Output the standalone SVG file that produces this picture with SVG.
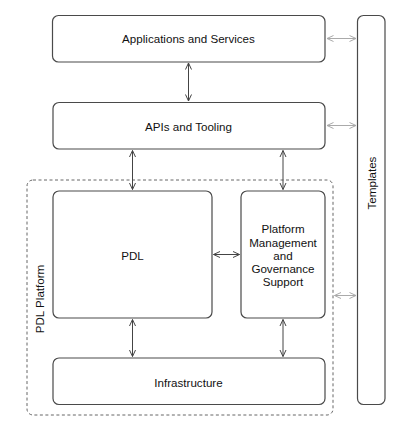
<svg xmlns="http://www.w3.org/2000/svg" width="400" height="432" viewBox="0 0 400 432">
<style>
.box{fill:#fff;stroke:#4a4a4a;stroke-width:1.2}
.dash{fill:none;stroke:#666;stroke-width:1;stroke-dasharray:3,2.5}
.t{font-family:"Liberation Sans",Arial,sans-serif;font-size:11.6px;fill:#111;text-anchor:middle;dominant-baseline:central}
.c{stroke:#444;stroke-width:1;fill:none;marker-start:url(#ad);marker-end:url(#ad)}
.g{stroke:#aaa;stroke-width:1;fill:none;marker-start:url(#ag);marker-end:url(#ag)}
</style>
<defs>
<marker id="ad" viewBox="0 0 8 8" refX="7.5" refY="4" markerWidth="8" markerHeight="8" markerUnits="userSpaceOnUse" orient="auto-start-reverse">
<path d="M1,1 L7.5,4 L1,7" fill="none" stroke="#444" stroke-width="1"/>
</marker>
<marker id="ag" viewBox="0 0 8 8" refX="7.5" refY="4" markerWidth="8" markerHeight="8" markerUnits="userSpaceOnUse" orient="auto-start-reverse">
<path d="M1,1 L7.5,4 L1,7" fill="none" stroke="#aaa" stroke-width="1"/>
</marker>
</defs>
<rect width="400" height="432" fill="#fff"/>
<g id="pdl-platform">
<rect class="dash" x="27" y="180" width="306" height="235" rx="6"/>
<text class="t" transform="translate(39,299) rotate(-90)">PDL Platform</text>
</g>
<g id="apps">
<rect class="box" x="52.5" y="15.5" width="272.5" height="46.5" rx="6"/>
<text class="t" x="188.5" y="38.5">Applications and Services</text>
</g>
<g id="apis">
<rect class="box" x="53" y="102.5" width="272" height="46.5" rx="6"/>
<text class="t" x="188.5" y="126">APIs and Tooling</text>
</g>
<g id="pdl">
<rect class="box" x="53" y="191" width="159" height="127" rx="6"/>
<text class="t" x="132.5" y="255">PDL</text>
</g>
<g id="pmgs">
<rect class="box" x="241" y="191" width="84" height="127" rx="6"/>
<text class="t" x="283" y="228.5">Platform</text>
<text class="t" x="283" y="242">Management</text>
<text class="t" x="283" y="255">and</text>
<text class="t" x="283" y="268.5">Governance</text>
<text class="t" x="283" y="281.5">Support</text>
</g>
<g id="infra">
<rect class="box" x="53" y="358" width="272" height="46.5" rx="6"/>
<text class="t" x="188.5" y="382">Infrastructure</text>
</g>
<g id="templates">
<rect class="box" x="357.5" y="15.5" width="27.5" height="389" rx="6"/>
<text class="t" transform="translate(371.5,183) rotate(-90)">Templates</text>
</g>
<g id="connectors">
<line class="c" x1="188.5" y1="63" x2="188.5" y2="101"/>
<line class="c" x1="132.5" y1="150.5" x2="132.5" y2="189.5"/>
<line class="c" x1="283" y1="150.5" x2="283" y2="189.5"/>
<line class="c" x1="213.5" y1="254.5" x2="239.5" y2="254.5"/>
<line class="c" x1="132.5" y1="319.5" x2="132.5" y2="356.5"/>
<line class="c" x1="283" y1="319.5" x2="283" y2="356.5"/>
<line class="g" x1="327" y1="38.5" x2="356" y2="38.5"/>
<line class="g" x1="327" y1="125.5" x2="356" y2="125.5"/>
<line class="g" x1="334.5" y1="295.5" x2="356" y2="295.5"/>
</g>
</svg>
